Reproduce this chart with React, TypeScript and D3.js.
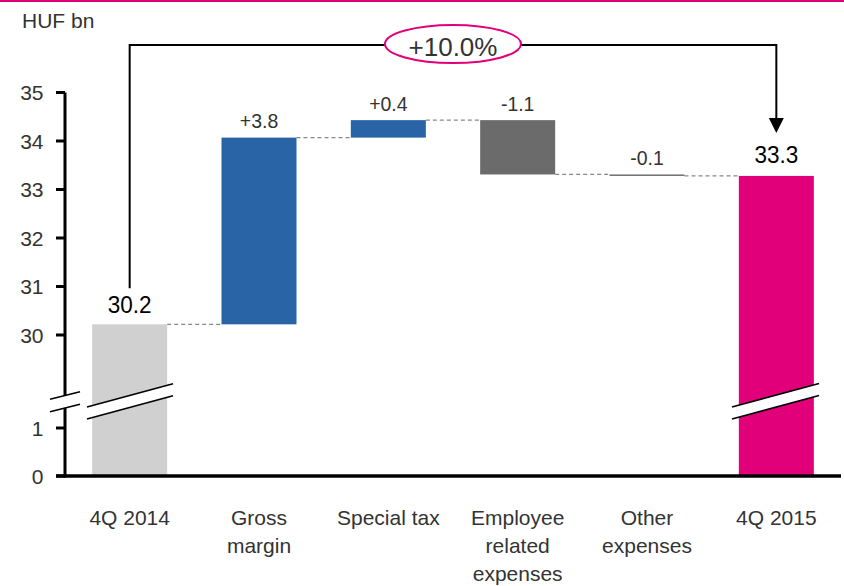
import React from "react";
import * as d3 from "d3";

const categories = ["4Q 2014", "Gross margin", "Special tax", "Employee related expenses", "Other expenses", "4Q 2015"];
const categoryLines = [["4Q 2014"], ["Gross", "margin"], ["Special tax"], ["Employee", "related", "expenses"], ["Other", "expenses"], ["4Q 2015"]];
const startValue = 30.22;
const deltas = [3.85, 0.36, -1.12, -0.03];
const endValue = 33.28;
const valueLabels = ["30.2", "+3.8", "+0.4", "-1.1", "-0.1", "33.3"];
const tickValues = [0, 1, 30, 31, 32, 33, 34, 35];
const growthLabel = "+10.0%";
const unitLabel = "HUF bn";

const W = 844, H = 586;
const FONT = "'Liberation Sans', Arial, sans-serif";
const C_START = "#d0d0d0", C_POS = "#2964a7", C_NEG = "#6b6b6b", C_END = "#e2007a", TXT = "#333";

export default function App() {
  const x = d3.scaleBand<string>().domain(categories).range([65, 841]).paddingInner(0.42).paddingOuter(0.21);
  const y = d3.scaleLinear().domain([0, 1, 30, 35]).range([476, 428, 335, 92.5]);
  const bw = x.bandwidth();

  type Bar = { cat: string; y0: number; y1: number; color: string; label: string; big: boolean };
  const bars: Bar[] = [];
  bars.push({ cat: categories[0], y0: 0, y1: startValue, color: C_START, label: valueLabels[0], big: true });
  let cur = startValue;
  deltas.forEach((d, i) => {
    const nxt = cur + d;
    bars.push({ cat: categories[i + 1], y0: cur, y1: nxt, color: d >= 0 ? C_POS : C_NEG, label: valueLabels[i + 1], big: false });
    cur = nxt;
  });
  bars.push({ cat: categories[5], y0: 0, y1: endValue, color: C_END, label: valueLabels[5], big: true });

  const cx = (c: string) => (x(c) as number) + bw / 2;
  const x0 = cx(categories[0]);
  const x5 = cx(categories[5]);
  const topY = 45;

  const breakBand = (xa: number, xb: number, yMidA: number, slope: number, gap: number, key: string) => {
    const ya = yMidA, yb = yMidA - slope * (xb - xa);
    return (
      <g key={key}>
        <polygon points={`${xa},${ya - gap / 2} ${xb},${yb - gap / 2} ${xb},${yb + gap / 2} ${xa},${ya + gap / 2}`} fill="#fff" />
        <line x1={xa} y1={ya - gap / 2} x2={xb} y2={yb - gap / 2} stroke="#000" strokeWidth={1.6} />
        <line x1={xa} y1={ya + gap / 2} x2={xb} y2={yb + gap / 2} stroke="#000" strokeWidth={1.6} />
      </g>
    );
  };

  const connectors = [];
  for (let i = 0; i < bars.length - 1; i++) {
    const b = bars[i];
    const lvl = b.y1;
    connectors.push(
      <line key={"c" + i} x1={(x(b.cat) as number) + bw} x2={x(bars[i + 1].cat) as number} y1={y(lvl)} y2={y(lvl)}
        stroke="#888" strokeWidth={1.3} strokeDasharray="4,3" />
    );
  }

  return (
    <svg width={W} height={H} style={{ position: "absolute", left: 0, top: 0, background: "#fff" }} fontFamily={FONT}>
      <rect x={0} y={0} width={W} height={2} fill={C_END} />
      <text x={22} y={27.5} fontSize={21} fill={TXT}>{unitLabel}</text>

      {connectors}
      {bars.map((b, i) => {
        const top = y(Math.max(b.y0, b.y1));
        const bot = y(Math.min(b.y0, b.y1));
        return (
          <rect key={"b" + i} x={x(b.cat) as number} y={top} width={bw} height={Math.max(1.3, bot - top)} fill={b.color} />
        );
      })}
      {bars.map((b, i) => {
        const top = y(Math.max(b.y0, b.y1));
        const cxx = cx(b.cat);
        const by = top - (b.big ? (i === 0 ? 11 : 13) : 9.5);
        return (
          <text key={"l" + i} transform={`translate(${cxx},${by}) scale(${b.big ? 0.92 : 0.95},1)`} textAnchor="middle"
            fontSize={b.big ? 24.5 : 20.5} fill={b.big ? "#000" : TXT}>{b.label}</text>
        );
      })}

      {/* axes */}
      <line x1={65} x2={65} y1={y(35)} y2={y(0) + 1.5} stroke="#000" strokeWidth={3} />
      <line x1={56} x2={841} y1={y(0)} y2={y(0)} stroke="#000" strokeWidth={3.5} />
      {tickValues.map((t) => (
        <g key={"t" + t}>
          <line x1={56} x2={65} y1={y(t)} y2={y(t)} stroke="#000" strokeWidth={3} />
          <text x={43.5} y={y(t) + 7.5} textAnchor="end" fontSize={21} fill={TXT}>{t}</text>
        </g>
      ))}

      {breakBand(50, 80, 405.5, 0.25, 12.5, "ab")}
      {breakBand(87, 173, 413, 0.27, 12, "b1")}
      {breakBand(732, 819, 413, 0.27, 12, "b2")}

      {/* category labels */}
      {categoryLines.map((lines, i) => (
        <text key={"x" + i} x={cx(categories[i])} textAnchor="middle" fontSize={21} fill={TXT}>
          {lines.map((ln, j) => (
            <tspan key={j} x={cx(categories[i])} y={524.5 + j * 28}>{ln}</tspan>
          ))}
        </text>
      ))}

      {/* growth bracket */}
      <path d={`M${x0},${y(30.22) - 36} V${topY} H${x5} V${121}`} fill="none" stroke="#000" strokeWidth={2} />
      <path d={`M${x5 - 7.5},${118} L${x5 + 7.5},${118} L${x5},${133} Z`} fill="#000" />
      <ellipse cx={453} cy={44} rx={68} ry={19} fill="#fff" stroke={C_END} strokeWidth={2} />
      <text x={453} y={55.5} textAnchor="middle" fontSize={26} fill={TXT}>{growthLabel}</text>
    </svg>
  );
}
